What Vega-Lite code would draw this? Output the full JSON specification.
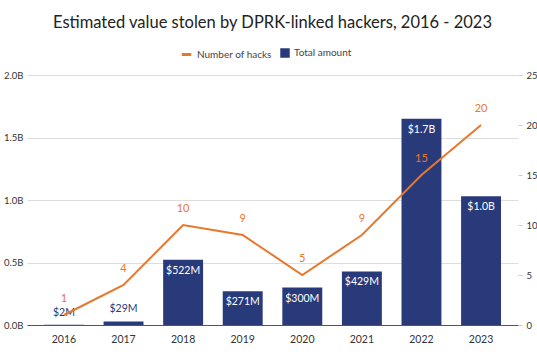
{
  "$schema": "https://vega.github.io/schema/vega-lite/v6.json",
  "width": 491,
  "height": 250,
  "autosize": {"type": "none"},
  "padding": {"left": 27, "top": 75, "right": 19, "bottom": 35},
  "background": "white",
  "config": {"view": {"stroke": null}, "font": "Lato"},
  "title": {"text": "Estimated value stolen by DPRK-linked hackers, 2016 - 2023", "font": "Lato", "fontSize": 16.5, "fontWeight": "normal", "color": "#222", "anchor": "middle", "offset": 17},
  "data": {"values": [
    {"year": "2016", "amount": 2, "amountLabel": "$2M", "hacks": 1},
    {"year": "2017", "amount": 29, "amountLabel": "$29M", "hacks": 4},
    {"year": "2018", "amount": 522, "amountLabel": "$522M", "hacks": 10},
    {"year": "2019", "amount": 271, "amountLabel": "$271M", "hacks": 9},
    {"year": "2020", "amount": 300, "amountLabel": "$300M", "hacks": 5},
    {"year": "2021", "amount": 429, "amountLabel": "$429M", "hacks": 9},
    {"year": "2022", "amount": 1650, "amountLabel": "$1.7B", "hacks": 15},
    {"year": "2023", "amount": 1030, "amountLabel": "$1.0B", "hacks": 20}
  ]},
  "encoding": {
    "x": {"field": "year", "type": "ordinal", "scale": {"paddingInner": 0.33, "paddingOuter": 0.285},
      "axis": {"title": null, "labelAngle": 0, "ticks": false, "domainColor": "#555", "labelFont": "Lato", "labelFontSize": 10.5, "labelColor": "#333", "labelPadding": 9}}
  },
  "layer": [
    {
      "encoding": {
        "y": {"field": "amount", "type": "quantitative", "scale": {"domain": [0, 2000]},
          "axis": {"title": null, "values": [0, 500, 1000, 1500, 2000], "labelExpr": "format(datum.value/1000,'.1f')+'B'", "ticks": false, "domain": false, "gridColor": "#ddd", "labelColor": "#333", "labelFontSize": 9.5, "labelPadding": 4, "labelFont": "Lato"}}
      },
      "layer": [
        {"mark": {"type": "bar"},
          "encoding": {"fill": {"datum": "Total amount", "type": "nominal",
            "scale": {"range": ["#283A7A"]},
            "legend": {"title": null, "orient": "none", "legendX": 253, "legendY": -27, "labelFont": "Lato", "labelFontSize": 10, "labelColor": "#444", "symbolType": "square", "symbolSize": 90, "symbolStrokeWidth": 0}}}},
        {"transform": [{"filter": "datum.amount > 100"}],
          "mark": {"type": "text", "baseline": "top", "dy": 6, "color": "white", "fontSize": 10.5, "font": "Lato"},
          "encoding": {"text": {"field": "amountLabel"}}},
        {"transform": [{"filter": "datum.amount <= 100"}],
          "mark": {"type": "text", "baseline": "bottom", "dy": -7, "color": "#283A7A", "fontSize": 10.5, "font": "Lato"},
          "encoding": {"text": {"field": "amountLabel"}}}
      ]
    },
    {
      "encoding": {
        "y": {"field": "hacks", "type": "quantitative", "scale": {"domain": [0, 25]},
          "axis": {"title": null, "orient": "right", "values": [0, 5, 10, 15, 20, 25], "grid": false, "domain": false, "ticks": true, "tickColor": "#ccc", "tickSize": 4, "labelColor": "#333", "labelFontSize": 9.5, "labelPadding": 4, "labelFont": "Lato"}}
      },
      "layer": [
        {"mark": {"type": "line", "strokeWidth": 2},
          "encoding": {"stroke": {"datum": "Number of hacks", "type": "nominal",
            "scale": {"range": ["#E8772E"]},
            "legend": {"title": null, "orient": "none", "legendX": 153, "legendY": -27, "labelFont": "Lato", "labelFontSize": 10, "labelColor": "#444", "symbolType": "stroke", "symbolSize": 90, "symbolStrokeWidth": 3}}}},
        {"mark": {"type": "text", "baseline": "middle", "dy": -16, "color": "#E8772E", "fontSize": 11, "font": "Lato"},
          "encoding": {"text": {"field": "hacks"}}}
      ]
    }
  ],
  "resolve": {"scale": {"y": "independent"}}
}
